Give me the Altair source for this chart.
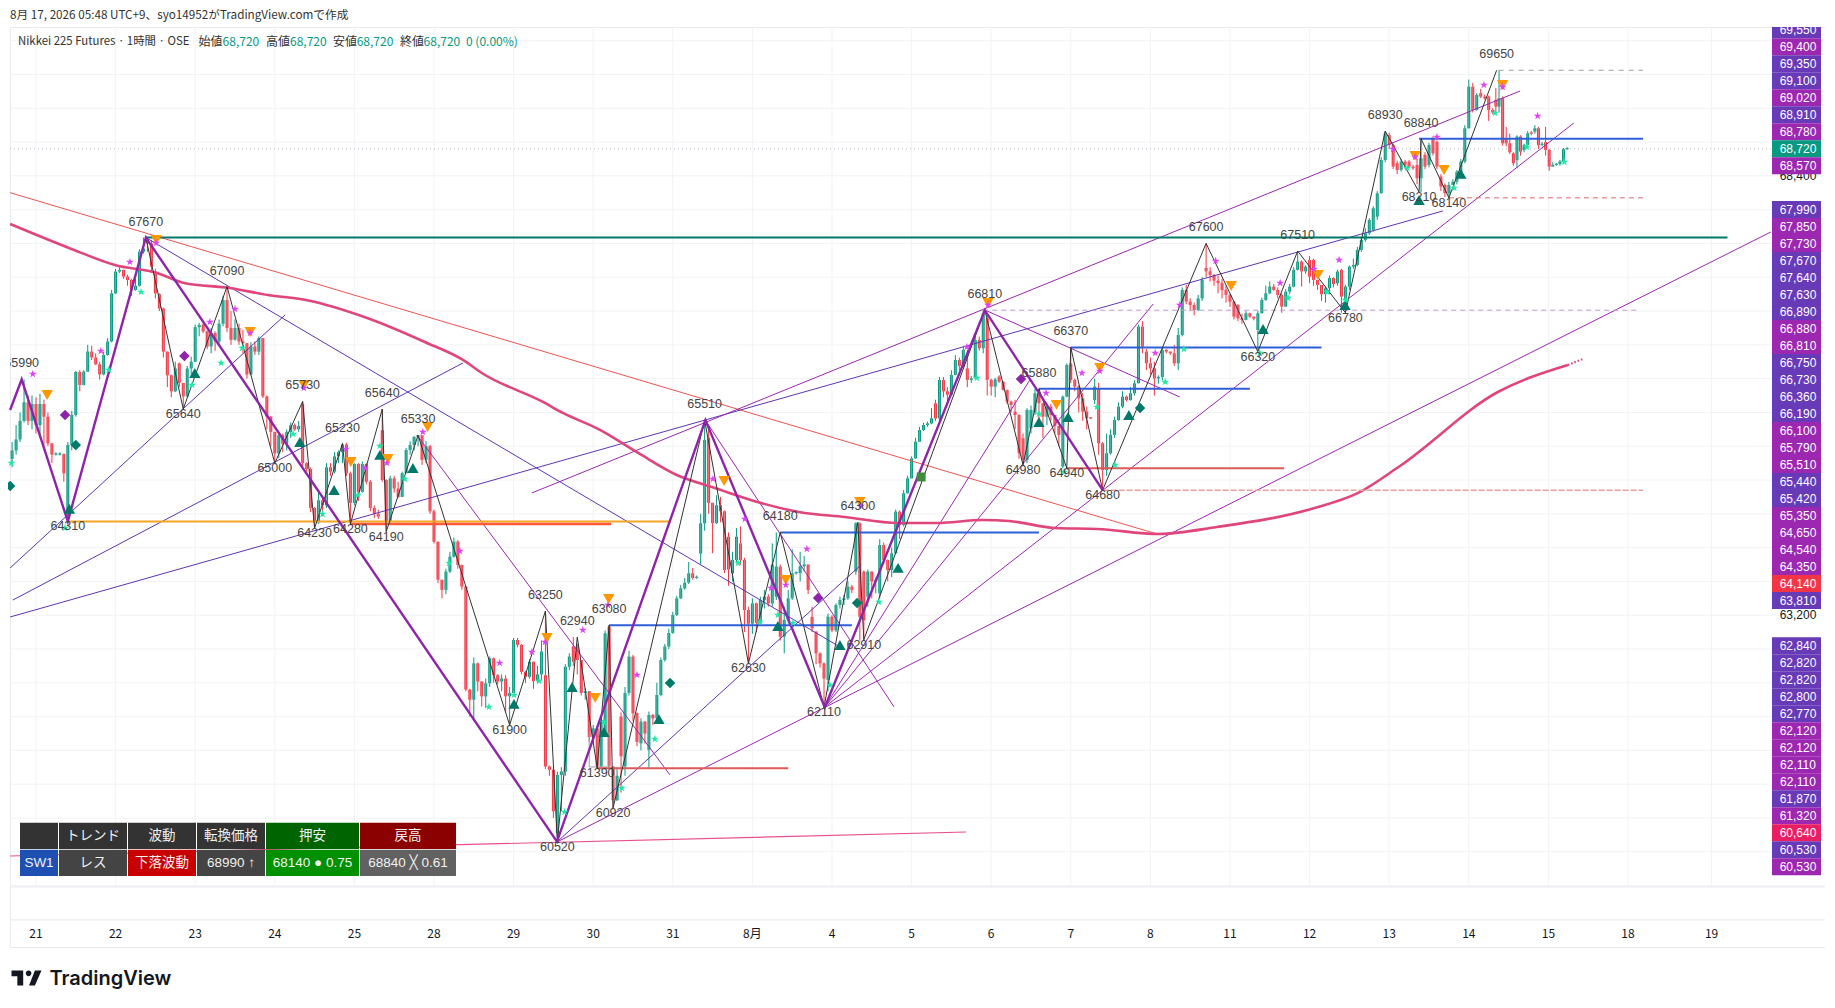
import altair as alt
import pandas as pd

# ---- session days (bar index; one day is about twenty hourly bars)
tick_bars = [0, 20, 40, 60, 80, 100, 120, 140, 160, 180, 200, 220, 240, 260, 280, 300, 320, 340, 360, 380, 400, 421]
tick_text = ["21", "22", "23", "24", "25", "28", "29", "30", "31", "8月", "4", "5", "6", "7", "8", "11", "12", "13", "14", "15", "18", "19"]
grid_prices = [60400 + 400 * i for i in range(25)]

# ---- hourly candles: (bar, close, high, low) or (bar, open, close, high, low) when the open gaps
ohlc_a = [(-6,65050,65150,65250,64950),(-5,65280,65450,65100),(-4,65500,65600,65250),(-3,65720,65990,65480),(-2,65500,65800,65450),(-1,65700,65800,65400),(0,65450,65780,65350),(1,65700,65820,65300),(2,65550,65750,65200),(3,65235,65600,65200),(4,65100,65235,65000),(5,65100,65130,65090),(6,65110,65130,65090),(7,64880,65110,64780),(8,64380,65215,65250,64310),(9,65570,65620,65150),(10,66080,66090,65550),(11,65925,66100,65850),(12,66083,66100,65920),(13,66320,66400,66080),(14,66250,66390,66220),(15,66170,66300,66160),(16,66050,66200,65990),(17,66280,66320,66040),(18,66440,66480,66270),(19,67010,67050,66430)]
ohlc_b = [(20,67267,67300,67000),(21,67287,67320,67250),(22,67208,67290,67180),(23,67168,67230,67100),(24,67050,67180,66980),(25,67100,67180,67040),(26,67503,67530,67090),(27,67540,67670,67480),(28,67640,67600,67670,67500),(29,67600,67326,67640,67250),(30,67267,67010,67300,66950),(31,67000,66830,67010,66800),(32,66320,66840,66250),(33,66040,66320,65900),(34,65850,66050,65780),(35,66120,66200,65840),(36,66181,65950,66190,65900),(37,65790,65950,65640),(38,66120,66150,65780),(39,66200,66260,66050)]
ohlc_c = [(40,66610,66640,66200),(41,66635,66660,66500),(42,66640,66560,66650,66540),(43,66380,66570,66350),(44,66540,66600,66300),(45,66440,66560,66330),(46,66650,66700,66400),(47,66930,66980,66620),(48,66600,67090,66550),(49,66460,66800,66400),(50,66600,66700,66450),(51,66440,66650,66400),(52,66420,66580,66300),(53,66050,66420,66000),(54,66380,66430,66040),(55,66320,66440,66280),(56,66480,66500,66280),(57,65790,66480,65770),(58,65550,65800,65400),(59,65370,65560,65200)]
ohlc_d = [(60,65115,65300,65000),(61,65330,65350,65060),(62,65230,65350,65130),(63,65370,65400,65150),(64,65450,65480,65300),(65,65400,65470,65380),(66,65440,65500,65370),(67,65700,65000,65730,64950),(68,64930,65010,64900),(69,64470,64950,64420),(70,64300,64480,64230),(71,64560,64680,64280),(72,64500,64600,64370),(73,64950,65000,64470),(74,64900,65000,64850),(75,65080,65130,64880),(76,65130,65150,65000),(77,65220,65240,65000),(78,64880,65240,64850),(79,64530,64900,64280)]
ohlc_e = [(80,64990,65000,64500),(81,64660,65000,64550),(82,64990,65020,64650),(83,64780,65000,64750),(84,64470,64800,64430),(85,64400,64500,64350),(86,64370,64450,64340),(87,65390,64800,65640,64780),(88,64800,64310,64810,64190),(89,64310,64820,64850,64290),(90,64700,64850,64650),(91,64600,64780,64590),(92,64880,64900,64600),(93,65156,65180,64880),(94,65215,65260,65100),(95,65310,65320,65150),(96,65330,65330,65200),(97,65040,65320,64980),(98,65200,65260,65000),(99,64430,65215,64400)]
ohlc_f = [(100,64070,64450,64050),(101,63620,64070,63580),(102,63500,63620,63400),(103,63716,63750,63450),(104,63893,63950,63700),(105,64071,64120,63880),(106,63794,64090,63750),(107,63540,63800,63500),(108,62320,63540,62300),(109,62200,62330,62000),(110,62630,62700,61950),(111,62415,62640,62300),(112,62240,62420,62120),(113,62394,62450,62100),(114,62690,62710,62350),(115,62490,62700,62400),(116,62415,62500,62380),(117,62450,62500,62300),(118,62240,62490,62050),(119,62280,62350,61900)]
ohlc_g = [(120,62907,62930,62280),(121,62850,62930,62820),(122,62530,62860,62500),(123,62470,62540,62400),(124,62650,62680,62450),(125,62420,62650,62330),(126,62500,62600,62400),(127,62770,62900,62430),(128,62490,61410,63250,61380),(129,61370,61420,61300),(130,60880,61380,60800),(131,60620,61310,61350,60520),(132,61350,61400,60880),(133,62590,62620,61300),(134,62710,62750,62550),(135,62830,62650,62940,62600),(136,62830,62670,62860,62500),(137,62280,62670,62250),(138,62300,62340,62200),(139,61760,62300,61700)]
ohlc_h = [(140,61860,61900,61700),(141,61410,61850,61390),(142,61960,62000,61400),(143,61800,62986,63020,61800),(144,63065,61410,63080,61380),(145,61010,61410,60920),(146,61300,61400,61000),(147,62000,61530,62050,61100),(148,61410,62280,62350,61300),(149,62710,62780,62250),(150,62040,62730,61950),(151,61700,62050,61650),(152,61684,61940,61980,61600),(153,61800,61950,61680),(154,61605,62020,62060,61400),(155,61980,62030,61900),(156,62256,62400,61950),(157,62670,62700,62240),(158,62830,62860,62650),(159,62990,63040,62800)]
ohlc_i = [(160,63203,63240,62980),(161,63400,63430,63190),(162,63518,63560,63390),(163,63585,63640,63500),(164,63696,63830,63570),(165,63640,63760,63620),(166,63650,63670,63630),(167,63930,64288,64400,63800),(168,65274,65510,64200),(169,65300,64530,65400,64400),(170,64290,64530,63933),(171,64500,64620,64280),(172,64430,64600,64300),(173,63735,64440,63700),(174,64130,63740,64180,63550),(175,63696,63854,63950,63600),(176,64130,64230,63830),(177,64050,63854,64250,63800),(178,63262,63880,63000),(179,63100,63300,62630)]
ohlc_j = [(180,63340,63400,62980),(181,63110,63350,63000),(182,63380,63420,63100),(183,63420,63500,63280),(184,63340,63450,63300),(185,63800,64050,63300),(186,63420,63775,64180,63380),(187,62946,63800,62900),(188,63144,63300,62750),(189,63400,63500,63100),(190,63696,63980,63380),(191,63700,63720,63680),(192,63780,63950,63600),(193,63800,63900,63720),(194,63500,63800,63450),(195,63180,63045,63300,63000),(196,63005,62749,63010,62620),(197,62630,62760,62580),(198,62450,62640,62110),(199,62433,63183,63220,62300)]
ohlc_k = [(200,63183,63020,63200,63000),(201,63321,63340,63000),(202,63380,63420,63280),(203,63400,63440,63320),(204,63538,63600,63380),(205,63500,63560,63460),(206,63716,64288,64300,63680),(207,64288,63180,64300,62900),(208,63716,63140,63730,62910),(209,63420,63716,63740,63300),(210,63600,63720,63400),(211,63620,63640,63460),(212,63459,64031,64100,63400),(213,63854,64060,63800),(214,63735,63860,63600),(215,63933,64000,63650),(216,64426,64450,63920),(217,64268,64440,64100),(218,64643,64680,64250),(219,64820,64850,64640)]
ohlc_l = [(220,65057,65080,64820),(221,65254,65300,65050),(222,65392,65430,65250),(223,65451,65480,65380),(224,65470,65490,65430),(225,65530,65650,65460),(226,65708,65530,65750,65500),(227,65530,65984,66020,65500),(228,65850,66020,65780),(229,65810,65900,65700),(230,66044,66100,65800),(231,66221,66280,66040),(232,66150,66250,66100),(233,66340,66380,66130),(234,66120,65985,66340,65900),(235,66004,66030,65950),(236,66458,66540,66000),(237,66360,66500,66330),(238,66774,66810,66300),(239,66714,65985,66780,65800)]
ohlc_m = [(240,65906,66000,65800),(241,65990,66010,65780),(242,66024,65965,66040,65950),(243,65866,65970,65860),(244,65728,65870,65700),(245,65689,65740,65600),(246,65610,65570,65750,65400),(247,65117,65580,65050),(248,65294,65038,65350,64980),(249,65630,65650,65000),(250,65412,65630,65680,65350),(251,65600,65827,65880,65570),(252,65710,65880,65500),(253,65550,65710,65300),(254,65669,65700,65450),(255,65570,65700,65500),(256,65440,65570,65350),(257,65334,65440,65200),(258,64960,65787,65800,64940),(259,66162,66180,65780)]
ohlc_n = [(260,66180,65985,66370,65950),(261,65906,66000,65850),(262,65767,65920,65600),(263,65610,65830,65500),(264,65531,65670,65400),(265,65530,65540,65520),(266,65748,65906,66000,65700),(267,65886,65235,65950,65100),(268,64919,65250,64680),(269,65117,65350,64850),(270,65335,65400,65100),(271,65511,65550,65300),(272,65669,65720,65500),(273,65787,65850,65650),(274,65748,65800,65730),(275,65827,65900,65740),(276,65945,65980,65800),(277,66616,66640,65950),(278,66379,66680,66300),(279,66320,66182,66350,66100)]
ohlc_o = [(280,66122,66250,66050),(281,66004,66200,65800),(282,66020,66040,65940),(283,66340,66360,65980),(284,66320,66350,66300),(285,66300,66320,66280),(286,66182,66400,66150),(287,66517,66600,66100),(288,67050,67080,66500),(289,66912,67110,66880),(290,66872,66950,66800),(291,66813,66900,66750),(292,66950,66990,66800),(293,67168,67200,66920),(294,67310,67270,67600,67200),(295,67227,67320,67150),(296,67160,67240,67100),(297,67130,67220,67010),(298,67050,67180,66950),(299,66991,67100,66900)]
ohlc_p = [(300,66912,67000,66850),(301,66734,66920,66700),(302,66873,66714,66880,66680),(303,66695,66770,66650),(304,66774,66800,66690),(305,66734,66780,66720),(306,66710,66730,66690),(307,66576,66774,66800,66320),(308,66931,66960,66770),(309,67010,67100,66920),(310,67089,67150,67000),(311,67050,67120,67040),(312,66990,67080,66950),(313,66853,67010,66780),(314,67030,67060,66850),(315,67089,67120,67000),(316,67287,67320,67080),(317,67385,67510,67280),(318,67270,67400,67090),(319,67326,67340,67240)]
ohlc_q = [(320,67405,67208,67450,67130),(321,67405,67168,67420,67100),(322,67109,67170,67050),(323,67000,67110,66920),(324,67070,67090,66900),(325,67190,67220,67000),(326,67120,67200,67080),(327,67129,67267,67290,67100),(328,67287,66971,67300,66780),(329,66872,67089,67110,66780),(330,67326,67340,67050),(331,67346,67420,67300),(332,67523,67560,67330),(333,67642,67680,67500),(334,67721,67780,67620),(335,67878,67900,67700),(336,67760,68016,68040,67740),(337,67918,68194,68220,67880),(338,68588,68620,68190),(339,68904,68930,68560)]
ohlc_r = [(340,68884,68766,68910,68720),(341,68510,68780,68480),(342,68549,68470,68580,68420),(343,68569,68600,68450),(344,68529,68590,68480),(345,68569,68510,68590,68490),(346,68490,68530,68470),(347,68529,68372,68600,68300),(348,68372,68608,68840,68210),(349,68648,68510,68680,68480),(350,68529,68766,68790,68500),(351,68845,68667,68870,68640),(352,68805,68510,68820,68480),(353,68391,68273,68420,68220),(354,68293,68194,68310,68150),(355,68293,68330,68140),(356,68332,68360,68300),(357,68450,68470,68300),(358,68569,68600,68430),(359,68963,69000,68550)]
ohlc_s = [(360,69456,69540,68970),(361,69180,69500,69150),(362,69358,69380,69170),(363,69378,69338,69430,69320),(364,69318,69360,69300),(365,69338,69180,69350,69050),(366,69150,69200,69130),(366.8,69299,69220,69440,69150),(367.6,69220,69318,69650,69150),(368.5,69318,68786,69340,68760),(369.4,68845,68786,68980,68750),(370.3,68680,68900,68660),(371.2,68667,68549,68680,68520),(372.1,68588,68865,68880,68490),(373,68865,68687,68880,68640),(373.9,68707,68766,68780,68680),(374.8,68904,68930,68760),(375.7,68900,68930,68880),(376.6,68924,68963,69000,68900),(377.5,68963,68766,68980,68720),(378.4,68770,68800,68750),(379.3,68800,68707,68980,68640),(380.2,68510,68720,68460),(381.1,68530,68560,68510),(382,68530,68550,68520),(382.9,68540,68570,68590,68520),(383.8,68715,68730,68560),(384.7,68720,68740,68710)]

# ---- zigzag pivots
piv_bars = [-3.6,8,27.6,37,48,60,67,70,77,79,87,88,96,119,128,131,136,141,144,145,168,179,187,198,206.5,208,238.4,248,252,259,260,268,294,307,317,329,339,347.5,348,355,367]
piv_vals = [65990,64310,67670,65640,67090,65000,65730,64230,65230,64280,65640,64190,65330,61900,63250,60520,62940,61390,63080,60920,65510,62630,64180,62110,64300,62910,66810,64980,65880,64940,66370,64680,67600,66320,67510,66780,68930,68210,68840,68140,69650]
piv_high = [1,0,1,0,1,0,1,0,1,0,1,0,1,0,1,0,1,0,1,0,1,0,1,0,1,0,1,0,1,0,1,0,1,0,1,0,1,0,1,0,1]
major_bars = [-6.5,-3.6,8,27.6,130.9,168.2,198.2,238.4,268]
major_vals = [65629,65990,64310,67670,60520,65510,62110,66810,64680]

# ---- moving average
ma_bars = [-6.5,8.3,19.8,30.4,37.2,48.7,58.3,67.8,83.2,97.7,107.3,112,127.4,132.4,141.7,151.3,161,170.6,182.2,191.7,203.3,216.6,226.4,237.9,244.5,256,266.6,282.2,296.7,320.4,332.2,342.7,367.3,384.9]
ma_vals = [67831,67547,67345,67251,67132,67073,66990,66931,66718,66434,66221,66067,65724,65594,65393,65120,64860,64706,64528,64422,64363,64292,64292,64327,64315,64233,64221,64162,64244,64458,64647,64966,65842,66162]
ma_tail = [(384.9,66162,388.7,66233)]

# ---- straight lines: (bar from, price from, bar to, price to)
salmon_lines = [(-6.5,68201,281.6,64162)]
indigo_lines = [(27.6,67670,202,62824),(-6.5,63759,62.6,66754),(-5.8,63380,107.3,66186),(-6.5,63179,353.5,67985),(130.9,60516,207,63783)]
purple_lines = [(124.6,64647,372.9,69405),(95.7,65333,159.3,61309),(168.3,65499,215.6,62114),(238.4,66813,287.4,65783),(130.9,60516,435.9,67736),(198.2,62114,249.7,65984),(198.2,62114,280.7,66884),(198.2,62114,386.4,69026)]
pink_lines = [(-6.5,60350,233.7,60634)]
blue_levels = [(144,205,63080),(187,252,64180),(252,305,65880),(260,323,66370),(347.5,403.8,68840)]
red_levels = [(141,189,61390),(259,313.6,64940)]
teal_levels = [(27.6,425,67670)]
orange_levels = [(8,159.5,64310)]
redorange_levels = [(79,144.5,64280)]
grey_dash_levels = [(367.5,403.8,69650)]
red_dash_levels = [(355,403.8,68140)]
pink_dash_levels = [(268,403.8,64680)]
lilac_dash_levels = [(238,403,66810)]
box_bars = [139, 144]
box_prices = [61404, 61806]

# ---- markers: bars and prices
tri_up_bars = [8.4,39.9,66.3,74.9,86.4,94.7,120.1,134.7,142.7,156.5,186.4,202,216.6,252,259.3,274.6,308.3,328.9,347.5,358]
tri_up_vals = [64458,66067,65250,64682,65097,64943,62150,62351,61818,61972,63073,62848,63760,65487,65546,65570,66588,66872,68115,68423]
tri_dn_bars = [2.8,53.8,67.3,79.1,88.4,98.4,30.2,128.4,140.5,143.9,188.4,172.9,207,256.4,239.2,267.3,300.3,322.1,346.5,353.8,368.5]
tri_dn_vals = [65807,66552,65925,65014,65049,65428,67641,62931,62221,63392,63617,64789,64540,65689,66896,66126,67097,67227,68636,68470,69476]
dia_teal_bars = [10,-6.5,159.3,206.3,277.4]
dia_teal_vals = [65215,64730,62398,63345,65653]
dia_purple_bars = [7.3,37.3,196.5,247.5]
dia_purple_vals = [65570,66268,63404,65996]
square_bars = [222.4]
square_vals = [64836]
star_m_bars = [-0.8,16.3,23.6,30.2,43.7,50,53.8,67.3,77.9,82.7,88.2,97.2,106.5,116.5,124.6,127.9,137.4,143.7,151,170.1,178.1,184.7,188.4,193.7,207.3,233.9,239.2,253.8,262.8,267.3,281.2,287.4,296.4,312.6,321.1,327.4,341,346.5,352,363.8,368.5,377.3]
star_m_vals = [66055,66328,67381,67606,66671,66825,66541,65890,65168,64943,65002,65369,63960,62635,62765,62883,63025,63321,62493,64813,64339,63522,63558,63984,64493,66375,66872,65830,66067,66091,66304,66872,67393,67132,67298,67405,68718,68624,68860,69476,69452,69109]
star_g_bars = [-6.2,18.3,7.3,26.4,39.2,46.5,51.8,64.6,72,80.9,86.4,92.7,103.8,113.8,120.1,126.4,132.8,142.7,147.2,155.5,176.4,181.9,186.4,190.2,199.5,211.8,236.4,252,258.3,266.6,271.1,283.7,288.4,307.5,314.6,324.4,329,344.5,356.3,366.6,374.6,384]
star_g_vals = [65002,66103,64233,67026,65925,66186,66363,65345,64398,64623,65203,64812,63818,62114,62256,62422,60871,61936,61155,61735,63818,63120,63203,63108,62374,63357,66008,65582,64895,65665,64978,65961,66351,66304,66955,67026,66931,68494,68257,69145,68742,68565]

# ---- price tags down the right edge
tags_top = ["69,550","69,400","69,350","69,100","69,020","68,910","68,780","68,720","68,570"]
tags_top_kind = "ipiipiptp"
tags_mid = ["67,990","67,850","67,730","67,670","67,640","67,630","66,890","66,880","66,810","66,750","66,730","66,360","66,190","66,100","65,790","65,510","65,440","65,420","65,350","64,650","64,540","64,350","64,140","63,810"]
tags_mid_kind = "ippiiiippiiiipppiipppprI".replace("I", "i")
tags_low = ["62,840","62,820","62,820","62,800","62,770","62,120","62,120","62,110","62,110","61,870","61,320","60,640","60,530","60,530"]
tags_low_kind = "iiiiippppipkip"
tag_colors = {"i": "#673ab7", "p": "#9c27b0", "t": "#089981", "r": "#f23645", "k": "#e91e63"}
bare_ticks = ["68,400", "63,200"]
bare_tick_prices = [68400, 63200]

# ---- status table
table_head = ["", "トレンド", "波動", "転換価格", "押安", "戻高"]
table_row = ["SW1", "レス", "下落波動", "68990 ↑", "68140 ● 0.75", "68840 ╳ 0.61"]
table_head_fill = ["#333333", "#333333", "#333333", "#333333", "#006400", "#8b0000"]
table_row_fill = ["#1e50b4", "#444444", "#c80000", "#444444", "#009000", "#616161"]
table_widths = [38, 68, 68, 68, 93, 96]

# ---- legend line
legend_text = ["始値", "68,720", "高値", "68,720", "安値", "68,720", "終値", "68,720", "0 (0.00%)"]
legend_col = ["#333333", "#089981", "#333333", "#089981", "#333333", "#089981", "#333333", "#089981", "#089981"]
legend_x = [188.6, 212.6, 256, 280, 323, 346.7, 390, 413.6, 456]
legend_name = "Nikkei 225 Futures · 1時間 · OSE"

CJK = "Noto Sans CJK JP"
MIXED = "Liberation Sans, DejaVu Sans, Noto Sans CJK JP"
UP, DOWN = "#089981", "#f23645"
W, H = 1815, 920
xs = alt.Scale(domain=[-6.53, 449.5], nice=False, zero=False)
ys = alt.Scale(domain=[59273, 70162], nice=False, zero=False)
X = alt.X("bar:Q", scale=xs, axis=None)
X2 = alt.X2("bar2:Q")
Y = alt.Y("price:Q", scale=ys, axis=None)
Y2 = alt.Y2("price2:Q")

rows = []
prev = None
for group in (ohlc_a, ohlc_b, ohlc_c, ohlc_d, ohlc_e, ohlc_f, ohlc_g, ohlc_h, ohlc_i, ohlc_j, ohlc_k, ohlc_l, ohlc_m, ohlc_n, ohlc_o, ohlc_p, ohlc_q, ohlc_r, ohlc_s):
    for r in group:
        if len(r) == 5:
            b, o, c, h, l = r
        else:
            b, c, h, l = r
            o = prev
        prev = c
        top, bot = max(o, c), min(o, c)
        if top - bot < 15:
            top = bot + 15
        rows.append(dict(bar=b, low=min(l, bot), high=max(h, top), price=bot, price2=top, col=UP if c >= o else DOWN))
candles = pd.DataFrame(rows)
COL = alt.Color("col:N", scale=None, legend=None)


def segs(items, color, width, dash=None, opacity=1.0):
    if len(items[0]) == 3:
        items = [(a, p, b, p) for a, b, p in items]
    df = pd.DataFrame(items, columns=["bar", "price", "bar2", "price2"])
    kw = dict(color=color, strokeWidth=width, opacity=opacity)
    if dash:
        kw["strokeDash"] = dash
    return alt.Chart(df).mark_rule(**kw).encode(x=X, x2=X2, y=Y, y2=Y2)


def pts(bars, vals, shape, color, size):
    df = pd.DataFrame({"bar": bars, "price": vals})
    return alt.Chart(df).mark_point(filled=True, shape=shape, color=color, size=size, opacity=1, strokeWidth=0).encode(x=X, y=Y)


layers = []
# grid
grid_df = pd.DataFrame([(-6.53, p, 449.5, p) for p in grid_prices + [60000]], columns=["bar", "price", "bar2", "price2"])
layers.append(alt.Chart(grid_df).mark_rule(color="#f2f3f6", strokeWidth=1).encode(x=X, x2=X2, y=Y, y2=Y2))
vgrid = pd.DataFrame({"bar": tick_bars, "price": 70162, "price2": 59984})
layers.append(alt.Chart(vgrid).mark_rule(color="#f2f3f6", strokeWidth=1).encode(x=X, y=Y, y2=Y2))
layers.append(segs([(-6.53, 449.5, 59984), (-6.53, 449.5, 59593)], "#e6e8ec", 1))
layers.append(segs([(-6.53, 436, 68720)], "#b9bdc6", 1, dash=[1, 3]))
# candles
layers.append(alt.Chart(candles).mark_rule(strokeWidth=1).encode(x=X, y=alt.Y("low:Q", scale=ys, axis=None), y2=alt.Y2("high:Q"), color=COL))
layers.append(alt.Chart(candles).mark_rule(strokeWidth=3).encode(x=X, y=Y, y2=Y2, color=COL))
layers.append(alt.Chart(candles).mark_rule(strokeWidth=1, color="#ffffff", opacity=0.3).encode(x=X, y=Y, y2=Y2))
# lines
layers.append(alt.Chart(pd.DataFrame({"bar": box_bars[:1], "bar2": box_bars[1:], "price": box_prices[:1], "price2": box_prices[1:]})).mark_rect(fill=None, stroke="#9e9e9e", strokeWidth=1).encode(x=X, x2=X2, y=Y, y2=Y2))
layers.append(segs(salmon_lines, "#ef5350", 1))
layers.append(segs(indigo_lines, "#5e35b1", 1))
layers.append(segs(purple_lines, "#9c27b0", 1))
layers.append(segs(pink_lines, "#e84f8c", 1.2))
layers.append(alt.Chart(pd.DataFrame({"bar": ma_bars, "price": ma_vals})).mark_line(color="#e0457b", strokeWidth=2.6, interpolate="monotone").encode(x=X, y=Y))
layers.append(segs(ma_tail, "#e0457b", 2.2, dash=[1.5, 2]))
layers.append(segs(orange_levels, "#f5a623", 2))
layers.append(segs(redorange_levels, "#ff5a36", 2.5))
layers.append(segs(teal_levels, "#00796b", 2))
layers.append(segs(blue_levels, "#2f5fd8", 2))
layers.append(segs(red_levels, "#dc5a5a", 2))
layers.append(segs(grey_dash_levels, "#9e9e9e", 1, dash=[5, 5]))
layers.append(segs(red_dash_levels, "#e06666", 1, dash=[5, 4]))
layers.append(segs(pink_dash_levels, "#eaa0a0", 1.5, dash=[6, 2]))
layers.append(segs(lilac_dash_levels, "#c39ad0", 1, dash=[5, 4]))
# zigzags
zig_thin = pd.DataFrame({"bar": piv_bars[2:], "price": piv_vals[2:]})
layers.append(alt.Chart(zig_thin).mark_line(color="#333333", strokeWidth=1).encode(x=X, y=Y))
layers.append(alt.Chart(pd.DataFrame({"bar": major_bars, "price": major_vals})).mark_line(color="#8e24aa", strokeWidth=2.4).encode(x=X, y=Y))
# markers
STAR = "M0,-1L.22,-.31L.95,-.31L.36,.12L.59,.81L0,.38L-.59,.81L-.36,.12L-.95,-.31L-.22,-.31Z"
layers.append(pts(tri_up_bars, tri_up_vals, "triangle-up", "#00796b", 130))
layers.append(pts(tri_dn_bars, tri_dn_vals, "triangle-down", "#ff9800", 130))
layers.append(pts(dia_teal_bars, dia_teal_vals, "diamond", "#00796b", 110))
layers.append(pts(dia_purple_bars, dia_purple_vals, "diamond", "#8e24aa", 110))
layers.append(pts(square_bars, square_vals, "square", "#3d8b3d", 80))
layers.append(pts(star_m_bars, star_m_vals, STAR, "#e040fb", 70))
layers.append(pts(star_g_bars, star_g_vals, STAR, "#1de9a6", 70))
# pivot labels
lab = pd.DataFrame({"bar": piv_bars, "price": piv_vals, "high": piv_high})
lab["txt"] = lab["price"].astype(str)
for flag, dy in ((1, -16), (0, 5)):
    layers.append(alt.Chart(lab[lab.high == flag]).mark_text(font="Liberation Sans", fontSize=12.5, color="#444444", dy=dy, clip=True).encode(x=X, y=Y, text="txt:N"))

# right-hand tags, stacked the way the price scale stacks them
tag_rows = []
for labels, kinds, first in ((tags_top, tags_top_kind, 2.7), (tags_mid, tags_mid_kind, 182.5), (tags_low, tags_low_kind, 618.7)):
    for i, (t, k) in enumerate(zip(labels, kinds)):
        tag_rows.append(dict(py=first + i * 17.0, txt=t, fill=tag_colors[k]))
tags = pd.DataFrame(tag_rows)
tags["top"] = tags.py - 8.5
tags["bot"] = tags.py + 8.5
tags["left"] = 1762
tags["right"] = 1811
tags["mid"] = 1788
PX = lambda f: alt.X(f"{f}:Q", scale=None, axis=None)
PY = lambda f: alt.Y(f"{f}:Q", scale=None, axis=None)
layers.append(alt.Chart(pd.DataFrame({"txt": bare_ticks, "price": bare_tick_prices})).mark_text(font="Liberation Sans", fontSize=12, color="#131722").encode(x=alt.value(1788), y=Y, text="txt:N"))
layers.append(alt.Chart(tags).mark_rect(clip=True).encode(x=PX("left"), x2=alt.X2("right:Q"), y=PY("top"), y2=alt.Y2("bot:Q"), color=alt.Color("fill:N", scale=None, legend=None)))
layers.append(alt.Chart(tags).mark_text(font="Liberation Sans", fontSize=12, color="#ffffff", clip=True).encode(x=PX("mid"), y=PY("py"), text="txt:N"))

# status table
cells = []
left = 10.0
for i, w in enumerate(table_widths):
    cells.append(dict(l=left, r=left + w, t=795.7, b=822.0, txt=table_head[i], fill=table_head_fill[i]))
    cells.append(dict(l=left, r=left + w, t=822.7, b=849.0, txt=table_row[i], fill=table_row_fill[i]))
    left += w + 1
cells = pd.DataFrame(cells)
cells["cx"] = (cells.l + cells.r) / 2
cells["cy"] = (cells.t + cells.b) / 2
layers.append(alt.Chart(cells).mark_rect().encode(x=PX("l"), x2=alt.X2("r:Q"), y=PY("t"), y2=alt.Y2("b:Q"), color=alt.Color("fill:N", scale=None, legend=None)))
layers.append(alt.Chart(cells).mark_text(font=MIXED, fontSize=13.5, color="#f0f0f0").encode(x=PX("cx"), y=PY("cy"), text="txt:N"))

# x labels
tk = pd.DataFrame({"bar": tick_bars, "txt": tick_text})
layers.append(alt.Chart(tk).mark_text(font=CJK, fontSize=12, color="#131722").encode(x=X, y=alt.value(907), text="txt:N"))

# header, legend, logo
layers.append(alt.Chart(pd.DataFrame({"txt": ["8月 17, 2026 05:48 UTC+9、syo14952がTradingView.comで作成"]})).mark_text(font=CJK, fontSize=11.7, color="#333333", align="left").encode(x=alt.value(0), y=alt.value(-12), text="txt:N"))
layers.append(alt.Chart(pd.DataFrame({"txt": [legend_name]})).mark_text(font=CJK, fontSize=11.4, color="#333333", align="left").encode(x=alt.value(8), y=alt.value(14.7), text="txt:N"))
leg = pd.DataFrame({"txt": legend_text, "col": legend_col, "lx": legend_x})
layers.append(alt.Chart(leg).mark_text(font=CJK, fontSize=12, align="left").encode(x=PX("lx"), y=alt.value(14.7), text="txt:N", color=alt.Color("col:N", scale=None, legend=None)))
LOGO = "M-.22,.5L-.61,.5L-.61,-.11L-1,-.11L-1,-.5L-.22,-.5ZM.56,.5L.17,.5L.56,-.5L1,-.5ZM-.05,-.31a.19,.19 0 1 0 .38,0a.19,.19 0 1 0 -.38,0Z"
layers.append(alt.Chart(pd.DataFrame({"txt": ["TradingView"]})).mark_point(filled=True, shape=LOGO, size=900, color="#131722", opacity=1, strokeWidth=0).encode(x=alt.value(16.5), y=alt.value(951)))
layers.append(alt.Chart(pd.DataFrame({"txt": ["TradingView"]})).mark_text(font="Inter", fontSize=20, fontWeight=600, color="#131722", align="left").encode(x=alt.value(39.5), y=alt.value(952), text="txt:N"))

chart = alt.layer(*layers).properties(
    width=W, height=H,
    padding={"left": 2, "top": 19, "right": 0, "bottom": 53},
    autosize=alt.AutoSizeParams(type="none"),
    background="#ffffff",
).configure_view(stroke="#e8eaee")

chart.save("out.html", embed_options={"renderer": "svg", "actions": False})
